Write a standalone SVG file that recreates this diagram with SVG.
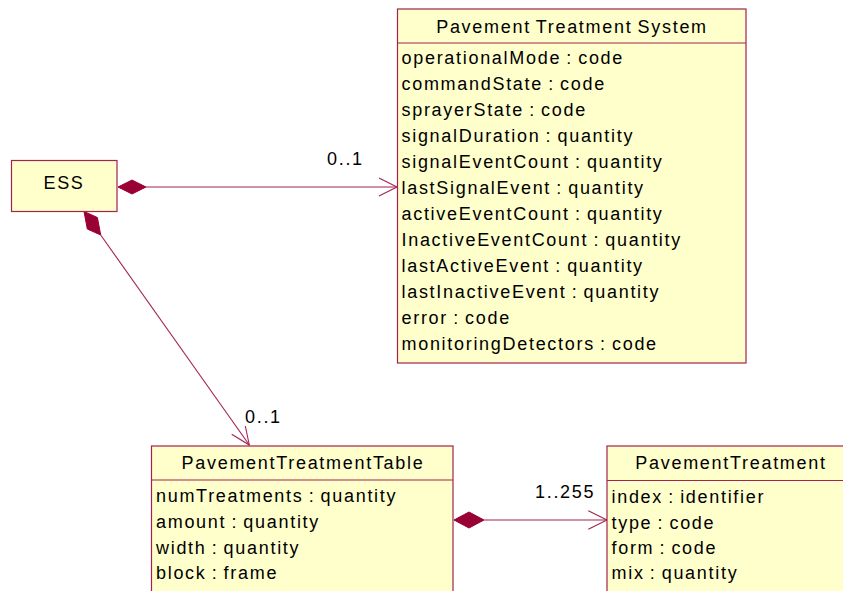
<svg xmlns="http://www.w3.org/2000/svg" width="843" height="591" viewBox="0 0 843 591">
  <style>
    .box { fill: #ffffcc; stroke: #a3224f; stroke-width: 1.2; }
    .div { stroke: #a3224f; stroke-width: 1.2; }
    .t { font-family: "Liberation Sans", Arial, sans-serif; font-size: 18px; letter-spacing: 1.7px; word-spacing: -1.5px; fill: #000; }
    .title { text-anchor: middle; }
    .edge { stroke: #a3224f; stroke-width: 1.1; fill: none; }
    .dia { fill: #990033; stroke: #990033; stroke-width: 1; }
  </style>

  <g id="connectors">
    <!-- ESS to Pavement Treatment System -->
    <polygon class="dia" points="118,187 132,180 146,187 132,194"/>
    <line class="edge" x1="146" y1="187" x2="397" y2="187"/>
    <polyline class="edge" points="379,178 397,187 379,196"/>
    <text class="t" x="327" y="165">0..1</text>

    <!-- ESS to PavementTreatmentTable -->
    <polygon class="dia" points="84,211.5 97.4,217.5 100.7,235 87.3,229"/>
    <line class="edge" x1="100.7" y1="235" x2="249.3" y2="445"/>
    <polyline class="edge" points="231.7,434.3 249.3,445 245.3,426"/>
    <text class="t" x="245" y="423">0..1</text>

    <!-- PavementTreatmentTable to PavementTreatment -->
    <polygon class="dia" points="454,520 469,512 484,520 469,528"/>
    <line class="edge" x1="484" y1="520" x2="607" y2="520"/>
    <polyline class="edge" points="588.3,510.7 607,520 588.3,529.3"/>
    <text class="t" x="535" y="498">1..255</text>
  </g>

  <g id="ess">
    <rect class="box" x="11.5" y="160.5" width="105.5" height="51"/>
    <text class="t title" x="64" y="189">ESS</text>
  </g>

  <g id="pavement-treatment-system">
    <rect class="box" x="397.5" y="9" width="348.5" height="354"/>
    <line class="div" x1="397.5" y1="43" x2="746" y2="43"/>
    <text class="t title" x="572" y="33">Pavement Treatment System</text>
    <text class="t" x="401.5" y="63.5">operationalMode : code</text>
    <text class="t" x="401.5" y="89.5">commandState : code</text>
    <text class="t" x="401.5" y="115.5">sprayerState : code</text>
    <text class="t" x="401.5" y="141.5">signalDuration : quantity</text>
    <text class="t" x="401.5" y="167.5">signalEventCount : quantity</text>
    <text class="t" x="401.5" y="193.5">lastSignalEvent : quantity</text>
    <text class="t" x="401.5" y="219.5">activeEventCount : quantity</text>
    <text class="t" x="401.5" y="245.5">InactiveEventCount : quantity</text>
    <text class="t" x="401.5" y="271.5">lastActiveEvent : quantity</text>
    <text class="t" x="401.5" y="297.5">lastInactiveEvent : quantity</text>
    <text class="t" x="401.5" y="323.5">error : code</text>
    <text class="t" x="401.5" y="349.5">monitoringDetectors : code</text>
  </g>

  <g id="pavement-treatment-table">
    <rect class="box" x="151.5" y="446" width="301.5" height="160"/>
    <line class="div" x1="151.5" y1="480" x2="453" y2="480"/>
    <text class="t title" x="303" y="469">PavementTreatmentTable</text>
    <text class="t" x="156" y="502">numTreatments : quantity</text>
    <text class="t" x="156" y="528">amount : quantity</text>
    <text class="t" x="156" y="554">width : quantity</text>
    <text class="t" x="156" y="579">block : frame</text>
  </g>

  <g id="pavement-treatment">
    <rect class="box" x="607" y="446" width="248" height="160"/>
    <line class="div" x1="607" y1="480.5" x2="855" y2="480.5"/>
    <text class="t title" x="731" y="469">PavementTreatment</text>
    <text class="t" x="611.5" y="502.5">index : identifier</text>
    <text class="t" x="611.5" y="528.5">type : code</text>
    <text class="t" x="611.5" y="554">form : code</text>
    <text class="t" x="611.5" y="579">mix : quantity</text>
  </g>
</svg>
